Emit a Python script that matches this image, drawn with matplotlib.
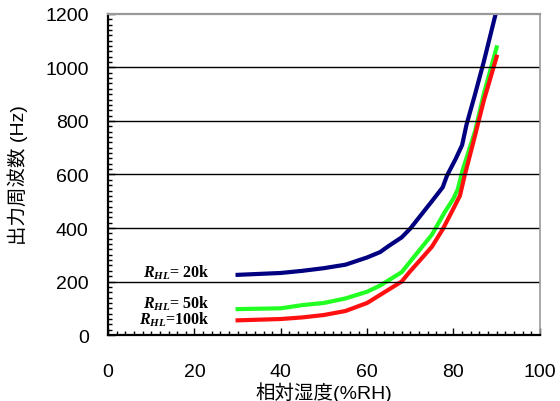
import matplotlib
matplotlib.use("Agg")
import matplotlib.pyplot as plt
from matplotlib.ticker import MultipleLocator

# 湿度に対する出力周波数 (負荷抵抗 R_HL 別)
x_20k = [30, 40, 45, 50, 55, 60, 63, 65, 68, 70, 75, 77.5, 78.5, 80.5, 82, 83, 85, 87, 90]
f_20k = [225, 232, 240, 250, 263, 290, 310, 333, 365, 398, 500, 552, 596, 658, 710, 785, 900, 1020, 1215]

x_50k = [30, 40, 45, 50, 55, 60, 63, 65, 68, 70, 72, 75, 78, 80, 81, 82, 85, 87, 90]
f_50k = [97, 100, 112, 120, 137, 162, 185, 205, 235, 275, 315, 375, 460, 510, 545, 610, 762, 900, 1075]

x_100k = [30, 40, 45, 50, 55, 60, 63, 65, 68, 70, 72, 75, 77.5, 80, 81.5, 82.5, 85, 87, 90]
f_100k = [55, 60, 66, 75, 90, 120, 150, 170, 200, 239, 275, 330, 395, 473, 521, 590, 746, 875, 1040]

labels = ["= 20k", "= 50k", "=100k"]
label_y = [237, 122, 60]

plt.rcParams["mathtext.fontset"] = "custom"
plt.rcParams["mathtext.it"] = "Liberation Serif:italic:bold"
plt.rcParams["mathtext.rm"] = "Liberation Serif:bold"

fonts = ["Liberation Sans", "Noto Sans CJK JP"]

fig = plt.figure(figsize=(5.6, 4.02), dpi=100)
ax = fig.add_axes([0.193, 0.164, 0.771, 0.799])

ax.plot(x_20k, f_20k, color="#000080", lw=3)
ax.plot(x_50k, f_50k, color="#22ff22", lw=3)
ax.plot(x_100k, f_100k, color="#ff1010", lw=3)

for txt, yy in zip(labels, label_y):
    ax.text(23.6, yy, r"$R_{HL}$" + txt, ha="right", va="center",
            fontsize=11.5, family="Liberation Serif", weight="bold")

ax.set_xlim(0, 100)
ax.set_ylim(0, 1200)
ax.xaxis.set_major_locator(MultipleLocator(20))
ax.xaxis.set_minor_locator(MultipleLocator(2))
ax.yaxis.set_major_locator(MultipleLocator(200))
ax.yaxis.set_minor_locator(MultipleLocator(20))

for yy in range(200, 1200, 200):
    ax.axhline(yy, color="black", lw=1)

ax.tick_params(which="both", direction="in", right=False, top=False)
ax.tick_params(which="major", length=5, width=1)
ax.tick_params(which="minor", length=3, width=1)
ax.tick_params(axis="x", which="major", pad=20, labelsize=14)
ax.tick_params(axis="y", which="major", pad=14, labelsize=14)
for lab in ax.get_xticklabels() + ax.get_yticklabels():
    lab.set_family(fonts)

ax.spines["left"].set_linewidth(1.6)
ax.spines["bottom"].set_linewidth(1.6)
ax.spines["top"].set_color("#999999")
ax.spines["right"].set_color("#999999")
ax.spines["top"].set_linewidth(1.6)
ax.spines["right"].set_linewidth(1.2)

ax.set_xlabel("相対湿度(%RH)", fontsize=14, family=fonts, labelpad=1)
ax.set_ylabel("出力周波数 (Hz)", fontsize=14, family=fonts, labelpad=12)

fig.savefig("out.png", dpi=100)
